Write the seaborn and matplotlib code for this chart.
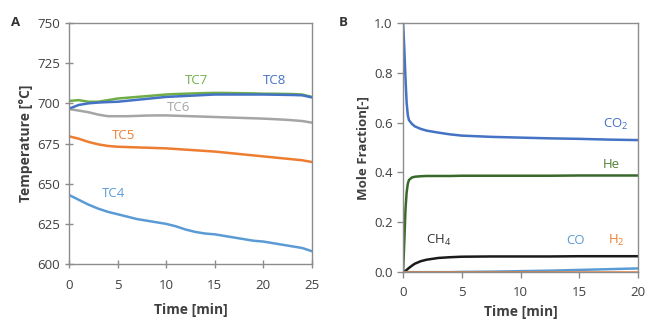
import numpy as np
import pandas as pd
import matplotlib
matplotlib.use("Agg")
import matplotlib.pyplot as plt
import seaborn as sns

# ---- Panel A data ----
t_a = [0, 1, 2, 3, 4, 5, 6, 7, 8, 9, 10, 11, 12, 13, 14, 15, 16, 17, 18, 19, 20, 21, 22, 23, 24, 25]
tc4 = [643, 640, 637, 634.5, 632.5, 631, 629.5, 628, 627, 626, 625, 623.5, 621.5, 620, 619, 618.5,
       617.5, 616.5, 615.5, 614.5, 614, 613, 612, 611, 610, 608]
tc5 = [679.5, 678, 676, 674.5, 673.5, 673, 672.8, 672.6, 672.4, 672.2, 672, 671.6, 671.2, 670.8, 670.4, 670,
       669.4, 668.8, 668.2, 667.6, 667, 666.4, 665.8, 665.2, 664.6, 663.5]
tc6 = [696.5, 695.5, 694.5, 693, 692, 692, 692, 692.2, 692.4, 692.5, 692.5, 692.3, 692.1, 691.9, 691.7, 691.5,
       691.3, 691.1, 690.9, 690.7, 690.5, 690.2, 689.9, 689.5, 689, 688]
tc7 = [701.5, 702, 701, 701, 702, 703, 703.5, 704, 704.5, 705, 705.5, 705.8, 706, 706.2, 706.4, 706.5,
       706.5, 706.4, 706.3, 706.2, 706, 706, 705.9, 705.8, 705.5, 704]
tc8 = [696.7, 699, 700, 700.5, 700.8, 701, 701.6, 702.2, 702.8, 703.4, 704, 704.3, 704.6, 704.9, 705.2, 705.5,
       705.5, 705.5, 705.5, 705.5, 705.5, 705.4, 705.3, 705.2, 705, 703.7]
labels_a = ["TC4", "TC5", "TC6", "TC7", "TC8"]
colors_a = ["#5b9bd5", "#ed7d31", "#a5a5a5", "#70ad47", "#4472c4"]
lab_x_a = [4.6, 5.6, 11.3, 13.1, 21.1]
lab_y_a = [644, 680, 697.5, 714, 714]

# ---- Panel B data ----
t_b = [0, 0.1, 0.2, 0.3, 0.4, 0.5, 0.75, 1, 1.5, 2, 3, 4, 5, 7.5, 10, 12.5, 15, 17.5, 20]
co2 = [1.0, 0.9, 0.78, 0.68, 0.63, 0.61, 0.595, 0.585, 0.575, 0.568, 0.56, 0.553, 0.548, 0.543, 0.54,
       0.537, 0.535, 0.532, 0.53]
he = [0.0, 0.12, 0.25, 0.32, 0.355, 0.37, 0.38, 0.383, 0.385, 0.386, 0.386, 0.386, 0.387, 0.387, 0.387,
      0.387, 0.388, 0.388, 0.388]
ch4 = [0.0, 0.002, 0.005, 0.009, 0.013, 0.017, 0.026, 0.034, 0.044, 0.05, 0.057, 0.06, 0.062, 0.063, 0.063,
       0.063, 0.064, 0.064, 0.064]
co = [0.0, 0.0, 0.0, 0.0, 0.0, 0.0, 0.0, 0.0, 0.0, 0.0, 0.0, 0.0, 0.001, 0.002, 0.004, 0.006, 0.009, 0.012, 0.015]
h2 = [0.002] * len(t_b)
labels_b = ["CO$_2$", "He", "CH$_4$", "CO", "H$_2$"]
colors_b = ["#4472c4", "#38682a", "#1a1a1a", "#5b9bd5", "#ed7d31"]
text_colors_b = ["#4472c4", "#548235", "#333333", "#5b9bd5", "#ed7d31"]
lab_x_b = [18.1, 17.7, 3.0, 14.65, 18.1]
lab_y_b = [0.594, 0.433, 0.128, 0.128, 0.128]

sns.set_style("ticks")
plt.rcParams['font.family'] = ['Open Sans', 'DejaVu Sans']
plt.rcParams['mathtext.fontset'] = 'custom'
plt.rcParams['mathtext.rm'] = 'Open Sans'

fig = plt.figure(figsize=(6.46, 3.24), dpi=100)
axA = fig.add_axes([0.1068, 0.185, 0.376, 0.744])
axB = fig.add_axes([0.624, 0.160, 0.364, 0.769])

dfA = pd.DataFrame({"Time": t_a * 5,
                    "Temp": tc4 + tc5 + tc6 + tc7 + tc8,
                    "Sensor": sum([[l] * len(t_a) for l in labels_a], [])})
sns.lineplot(data=dfA, x="Time", y="Temp", hue="Sensor", palette=colors_a,
             ax=axA, linewidth=1.8, legend=False)
for lx, ly, l, c in zip(lab_x_a, lab_y_a, labels_a, colors_a):
    axA.text(lx, ly, l, color=c, fontsize=9.5, ha="center", va="center")

dfB = pd.DataFrame({"Time": t_b * 5,
                    "Frac": co2 + he + ch4 + co + h2,
                    "Gas": sum([[l] * len(t_b) for l in labels_b], [])})
sns.lineplot(data=dfB, x="Time", y="Frac", hue="Gas", palette=colors_b,
             ax=axB, linewidth=1.8, legend=False)
for lx, ly, l, c in zip(lab_x_b, lab_y_b, labels_b, text_colors_b):
    axB.text(lx, ly, l, color=c, fontsize=9.5, ha="center", va="center")

frame = "#8c8c8c"
for ax in (axA, axB):
    for s in ax.spines.values():
        s.set_color(frame)
        s.set_linewidth(1.0)
    ax.tick_params(axis="both", colors=frame, labelcolor="#404040", labelsize=9.5, length=4, width=1.0)

axA.tick_params(axis="both", direction="inout", length=6)
axA.tick_params(axis="x", pad=8)
axB.tick_params(axis="x", pad=6)

axA.set_xlim(0, 25)
axA.set_ylim(600, 750)
axA.set_xticks([0, 5, 10, 15, 20, 25])
axA.set_yticks([600, 625, 650, 675, 700, 725, 750])
axA.set_xlabel("Time [min]", fontsize=10, fontweight="bold", color="#404040", labelpad=8)
axA.set_ylabel("Temperature [°C]", fontsize=10, fontweight="bold", color="#404040", labelpad=3)

axB.set_xlim(0, 20)
axB.set_ylim(0, 1.0)
axB.set_xticks([0, 5, 10, 15, 20])
axB.set_yticks([0.0, 0.2, 0.4, 0.6, 0.8, 1.0])
axB.yaxis.set_major_formatter(matplotlib.ticker.FormatStrFormatter("%.1f"))
axB.set_xlabel("Time [min]", fontsize=10, fontweight="bold", color="#404040", labelpad=4)
axB.set_ylabel("Mole Fraction[-]", fontsize=9.5, fontweight="bold", color="#404040", labelpad=3)

fig.text(16 / 646, 1 - 22 / 324, "A", fontsize=9.5, fontweight="bold", color="#333333", ha="center", va="center")
fig.text(343 / 646, 1 - 22 / 324, "B", fontsize=9.5, fontweight="bold", color="#333333", ha="center", va="center")

fig.savefig("out.png", dpi=100, facecolor="white")
